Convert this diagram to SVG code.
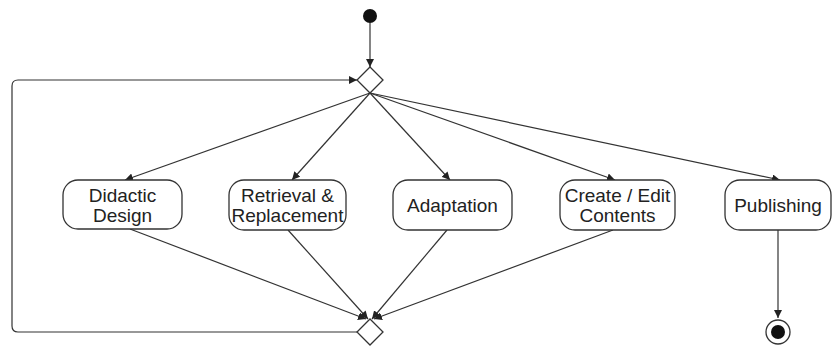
<svg xmlns="http://www.w3.org/2000/svg" width="834" height="348" viewBox="0 0 834 348">
<style>
.node rect{fill:#fff;stroke:#333;stroke-width:1.3}
.lbl{font-family:"Liberation Sans",Arial,sans-serif;font-size:19px;fill:#222;text-anchor:middle}
.edge{fill:none;stroke:#333;stroke-width:1.2;marker-end:url(#ah)}
.dia{fill:#fff;stroke:#333;stroke-width:1.3}
</style>
<defs>
<marker id="ah" viewBox="0 0 10 10" refX="10" refY="5" markerWidth="8" markerHeight="8" markerUnits="userSpaceOnUse" orient="auto">
<path d="M0,0 L10,5 L0,10 z" fill="#222"/>
</marker>
</defs>
<rect width="834" height="348" fill="#fff"/>
<g id="connectors">
<path class="edge" d="M370,23 L370,67"/>
<path class="edge" d="M357,332 L18,332 Q12,332 12,326 L12,86 Q12,80 18,80 L357,80"/>
<path class="edge" d="M370,93 L125,180"/>
<path class="edge" d="M370,93 L292,180"/>
<path class="edge" d="M370,93 L450,180"/>
<path class="edge" d="M370,93 L615,180"/>
<path class="edge" d="M370,93 L780,180"/>
<path class="edge" d="M130,229 L366,319"/>
<path class="edge" d="M288,230 L368,319"/>
<path class="edge" d="M447,230 L372,319"/>
<path class="edge" d="M613,230 L374,319"/>
<path class="edge" d="M778,230 L778,318"/>
</g>
<g id="start"><circle cx="370" cy="16" r="7" fill="#111"/></g>
<g id="merge-top"><polygon class="dia" points="370,67 383,80 370,93 357,80"/></g>
<g id="merge-bottom"><polygon class="dia" points="370,319 383,332 370,345 357,332"/></g>
<g id="didactic" class="node"><rect x="63" y="180" width="119" height="49" rx="15"/><text class="lbl" x="122.5" y="202">Didactic</text><text class="lbl" x="122.5" y="222">Design</text></g>
<g id="retrieval" class="node"><rect x="229" y="180" width="117" height="50" rx="15"/><text class="lbl" x="287.5" y="202">Retrieval &amp;</text><text class="lbl" x="287.5" y="222">Replacement</text></g>
<g id="adaptation" class="node"><rect x="393" y="180" width="119" height="50" rx="15"/><text class="lbl" x="452.5" y="212">Adaptation</text></g>
<g id="create" class="node"><rect x="560" y="180" width="115" height="50" rx="15"/><text class="lbl" x="617.5" y="202">Create / Edit</text><text class="lbl" x="617.5" y="222">Contents</text></g>
<g id="publishing" class="node"><rect x="725" y="180" width="106" height="50" rx="15"/><text class="lbl" x="778" y="212">Publishing</text></g>
<g id="end"><circle cx="778" cy="332" r="12" fill="#fff" stroke="#333" stroke-width="1.3"/><circle cx="778" cy="332" r="7" fill="#111"/></g>
</svg>
